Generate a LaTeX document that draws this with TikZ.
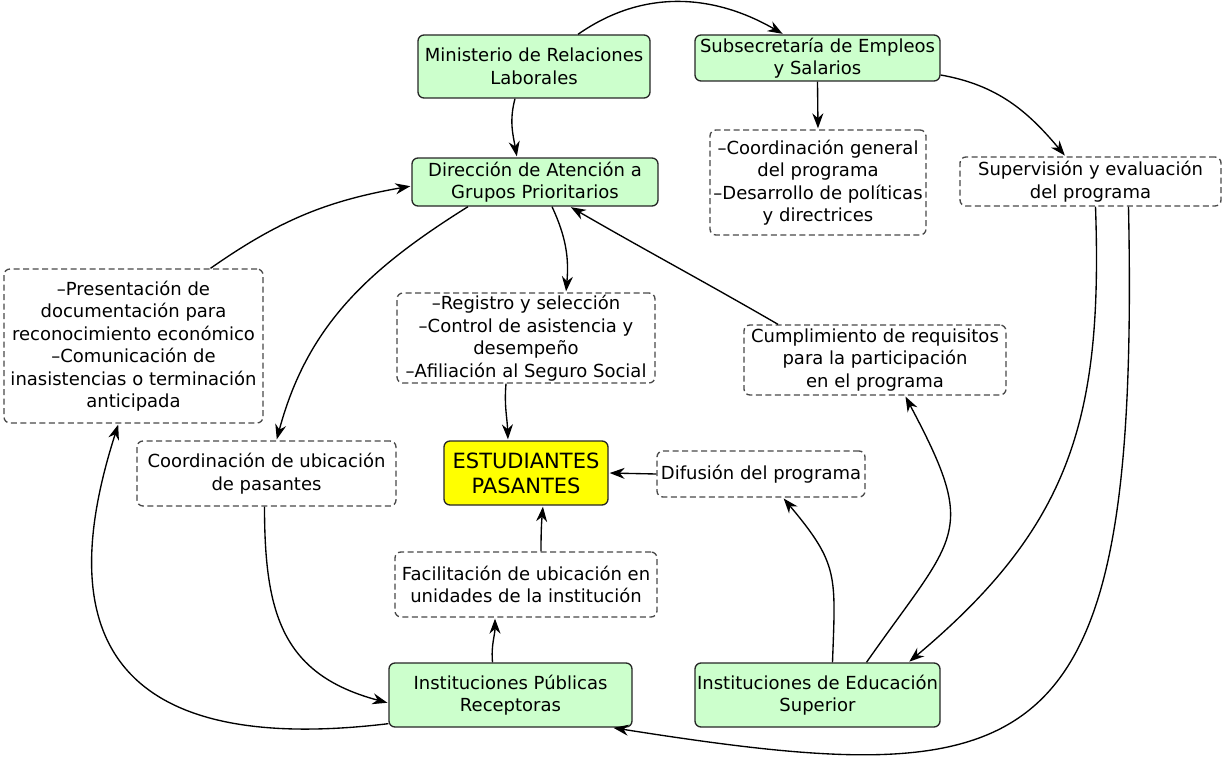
\documentclass[tikz,border=0pt]{standalone}
\usepackage{fontspec}
\setmainfont{DejaVu Sans}
\usetikzlibrary{arrows.meta}

\definecolor{boxgreen}{HTML}{CCFFCC}
\definecolor{boxyellow}{HTML}{FFFF00}
\definecolor{dashgray}{HTML}{484848}

\begin{document}
\begin{tikzpicture}[x = 1pt, y = 1pt, > = {Stealth[length = 15pt, width = 11pt]}, shorten > = 1pt, line width = 1.35pt,
    every node/.style = {align = center, font = \fontsize{18}{22.5}\selectfont, inner sep = 2pt, rounded corners = 6pt},
    org/.style = {draw = black!85, fill = boxgreen},
    task/.style = {draw = dashgray, dash pattern = on 6pt off 3.5pt},
    target/.style = {draw = black!85, fill = boxyellow, font = \fontsize{21}{25}\selectfont}]
    \useasboundingbox (0, 0) rectangle (1223, -757);

    \node[org, minimum width = 232, minimum height = 63] (mrl) at (534, -66.5) {Ministerio de Relaciones\\Laborales};
    \node[org, minimum width = 245, minimum height = 46] (sub) at (817.5, -58) {Subsecretaría de Empleos\\y Salarios};
    \node[org, minimum width = 246, minimum height = 48] (dir) at (535, -182) {Dirección de Atención a\\Grupos Prioritarios};
    \node[task, minimum width = 216, minimum height = 105] (gen) at (818, -182.5) {–Coordinación general\\del programa\\–Desarrollo de políticas\\y directrices};
    \node[task, minimum width = 261, minimum height = 49] (sup) at (1090.5, -181.5) {Supervisión y evaluación\\del programa};
    \node[task, minimum width = 259, minimum height = 154] (doc) at (133.5, -346) {–Presentación de\\documentación para\\reconocimiento económico\\–Comunicación de\\inasistencias o terminación\\anticipada};
    \node[task, minimum width = 258, minimum height = 90] (reg) at (526, -338) {–Registro y selección\\–Control de asistencia y\\desempeño\\–Afiliación al Seguro Social};
    \node[task, minimum width = 262, minimum height = 70] (req) at (875, -360) {Cumplimiento de requisitos\\para la participación\\en el programa};
    \node[task, minimum width = 259, minimum height = 65] (ubi) at (266.5, -473.5) {Coordinación de ubicación\\de pasantes};
    \node[target, minimum width = 164, minimum height = 64] (est) at (526, -473) {ESTUDIANTES\\PASANTES};
    \node[task, minimum width = 208, minimum height = 46] (dif) at (761, -474) {Difusión del programa};
    \node[task, minimum width = 262, minimum height = 65] (fac) at (526, -584.5) {Facilitación de ubicación en\\unidades de la institución};
    \node[org, minimum width = 243, minimum height = 64] (pub) at (510.5, -695) {Instituciones Públicas\\Receptoras};
    \node[org, minimum width = 245, minimum height = 64] (ies) at (817.5, -695) {Instituciones de Educación\\Superior};

    \draw[->] ([xshift = 44pt]mrl.north) to[out = 35, in = 150] ([xshift = -34pt]sub.north);
    \draw[->] ([xshift = -19pt]mrl.south) to[out = -105, in = 100] ([xshift = -18pt]dir.north);
    \draw[->] (sub.south) -- (gen.north);
    \draw[->] ([yshift = -17pt]sub.east) to[out = -10, in = 130] ([xshift = -25pt]sup.north);
    \draw[->] ([xshift = 77pt]doc.north) to[out = 35, in = 190] ([yshift = -4pt]dir.west);
    \draw[->] ([xshift = -67pt]dir.south) to[out = -148, in = 75] ([xshift = 10pt]ubi.north);
    \draw[->] ([xshift = 17pt]dir.south) to[out = -65, in = 85] ([xshift = 40pt]reg.north);
    \draw[->] ([xshift = -97pt]req.north) to[out = 150, in = -30] ([xshift = 35pt]dir.south);
    \draw[->] ([xshift = -20pt]reg.south) to[out = -95, in = 92] ([xshift = -18pt]est.north);
    \draw[->] (dif.west) -- (est.east);
    \draw[->] ([xshift = 15pt]fac.north) to[out = 90, in = -95] ([xshift = 17pt]est.south);
    \draw[->] ([xshift = -18pt]pub.north) to[out = 95, in = -90] ([xshift = -31pt]fac.south);
    \draw[->] ([xshift = -2pt]ubi.south) to[out = -90, in = 165, looseness = 1.2] ([yshift = -8pt]pub.west);
    \draw[->] ([yshift = 4pt]pub.south west) .. controls (45, -765) and (75, -560) .. ([xshift = -15pt]doc.south);
    \draw[->] ([xshift = 15pt]ies.north) to[out = 88, in = -50, looseness = 1.3] ([xshift = 22pt]dif.south);
    \draw[->] ([xshift = 49pt]ies.north) to[out = 55, in = -62, looseness = 1.5] ([xshift = 30pt]req.south);
    \draw[->] ([xshift = 5pt]sup.south) to[out = -88, in = 40, looseness = 1.1] ([xshift = 91pt]ies.north);
    \draw[->] ([xshift = 38pt]sup.south) .. controls (1140, -770) and (1040, -795) .. ([xshift = 102pt]pub.south);
\end{tikzpicture}
\end{document}
